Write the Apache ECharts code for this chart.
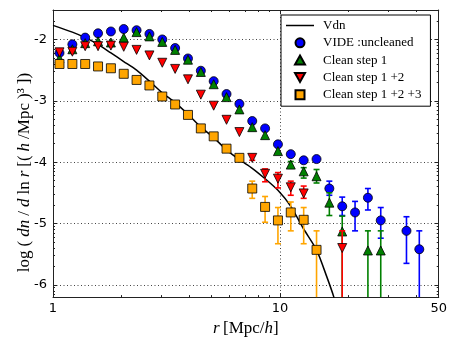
<!DOCTYPE html>
<html>
<head>
<meta charset="utf-8">
<script src="https://cdn.jsdelivr.net/npm/echarts@6/dist/echarts.min.js"></script>
<style>html,body{margin:0;padding:0;background:#fff}#c{width:450px;height:342px}</style>
</head>
<body>
<div id="c"></div>
<script>
// ---- data ----
const binR = [1.068,1.217,1.386,1.579,1.799,2.049,2.334,2.659,3.029,3.451,3.931,4.479,5.102,5.812,6.622,7.543,8.593,9.79,11.15,12.71,14.48,16.49,18.79,21.4,24.38,27.77,31.64,36.05,41.06];

const blueV  = [-2.22,-2.08,-1.97,-1.90,-1.87,-1.83,-1.85,-1.91,-2.00,-2.14,-2.31,-2.51,-2.68,-2.89,-3.05,-3.33,-3.45,-3.71,-3.87,-3.97,-3.95,-4.43,-4.72,-4.82,-4.58,-4.95,null,-5.12,-5.42];
const blueLo = [null,null,null,null,null,null,null,null,null,null,null,null,null,null,null,null,null,null,-3.90,-4.01,-3.99,-4.54,-4.87,-5.12,-4.78,-5.24,null,-5.65,-Infinity];
const blueHi = [null,null,null,null,null,null,null,null,null,null,null,null,null,null,null,null,null,null,-3.84,-3.93,-3.91,-4.31,-4.57,-4.64,-4.43,-4.74,null,-4.89,-5.12];

const greenV  = [-2.31,-2.16,-2.06,-2.03,-2.05,-1.97,-1.88,-1.95,-2.04,-2.17,-2.33,-2.53,-2.73,-2.94,-3.14,-3.43,-3.56,-3.82,-4.04,-4.15,-4.23,-4.66,-5.13,null,-5.44,-5.44,null,null,null];
const greenLo = [null,null,null,null,null,null,null,null,null,null,null,null,null,null,null,null,null,null,-4.10,-4.26,-4.34,-4.87,-Infinity,null,-Infinity,-Infinity,null,null,null];
const greenHi = [null,null,null,null,null,null,null,null,null,null,null,null,null,null,null,null,null,null,-3.99,-4.09,-4.12,-4.50,-4.88,null,-5.12,-5.12,null,null,null];

const redV  = [-2.21,-2.20,-2.11,-2.11,-2.10,-2.12,-2.17,-2.26,-2.38,-2.48,-2.65,-2.90,-3.08,-3.31,-3.51,-3.93,-4.19,-4.27,-4.41,-4.51,null,null,-5.40,null,null,null,null,null,null];
const redLo = [null,null,null,null,null,null,null,null,null,null,null,null,null,null,null,-3.97,-4.32,-4.42,-4.54,-4.59,null,null,-Infinity,null,null,null,null,null,null];
const redHi = [null,null,null,null,null,null,null,null,null,null,null,null,null,null,null,-3.89,-4.11,-4.17,-4.31,-4.39,null,null,-5.12,null,null,null,null,null,null];

const orangeV  = [-2.40,-2.40,-2.40,-2.44,-2.47,-2.56,-2.66,-2.75,-2.93,-3.06,-3.23,-3.45,-3.58,-3.78,-3.93,-4.43,-4.73,-4.95,-4.82,-4.94,-5.43,null,null,null,null,null,null,null,null];
const orangeLo = [null,null,null,null,null,null,null,null,null,null,null,null,null,null,null,-4.59,-4.98,-5.33,-5.12,-5.33,-Infinity,null,null,null,null,null,null,null,null];
const orangeHi = [null,null,null,null,null,null,null,null,null,null,null,null,null,null,null,-4.31,-4.56,-4.74,-4.65,-4.74,-5.12,null,null,null,null,null,null,null,null];

const vdnR = [1.0,1.217,1.386,1.579,1.799,2.049,2.334,2.659,3.029,3.451,3.931,4.479,5.102,5.812,6.622,7.543,8.593,9.79,11.15,12.71,14.48,16.0,17.26,18.5];
const vdnV = [-1.77,-1.88,-1.97,-2.08,-2.22,-2.36,-2.50,-2.68,-2.87,-3.03,-3.22,-3.43,-3.60,-3.80,-3.96,-4.10,-4.27,-4.46,-4.72,-5.09,-5.43,-5.85,-6.2,-6.6];

const seriesNames = ['Vdn','VIDE :uncleaned','Clean step 1','Clean step 1 +2','Clean step 1 +2 +3'];
const xMajorTicks = [1,10,50];
const xMinorTicks = [2,3,4,5,6,7,8,9,20,30,40];
const yMajorTicks = [-6,-5,-4,-3,-2];

// ---- layout / style ----
const X_MIN = 1, X_MAX = 50, Y_MIN = -6.2, Y_MAX = -1.52;
const yMinorTicks = [];
for (let n = -7; n <= -2; n++) for (let k = 2; k <= 9; k++) {
  const v = n + Math.log10(k);
  if (v > Y_MIN && v < Y_MAX) yMinorTicks.push(+v.toFixed(4));
}
const FRAME = '#222';
const SANS = 'DejaVu Sans';
const SERIF = 'Liberation Serif';

function pts(xs, ys) { return xs.map((x, i) => [x, ys[i]]).filter(p => p[1] !== null); }
function errData(xs, lo, hi) {
  const out = [];
  xs.forEach((x, i) => {
    if (lo[i] === null || hi[i] === null) return;
    const inf = lo[i] === -Infinity;
    out.push([x, inf ? Y_MIN - 1 : lo[i], hi[i], inf ? 1 : 0]);
  });
  return out;
}
function errRender(color) {
  return function (params, api) {
    const cs = params.coordSys;
    const x = api.value(0), lo = api.value(1), hi = api.value(2), inf = api.value(3);
    const pHi = api.coord([x, hi]);
    const pLo = api.coord([x, lo]);
    const bottom = cs.y + cs.height;
    const yb = Math.min(pLo[1], bottom);
    const st = { stroke: color, lineWidth: 1.6 };
    const ch = [
      { type: 'line', shape: { x1: pHi[0], y1: pHi[1], x2: pHi[0], y2: yb }, style: st },
      { type: 'line', shape: { x1: pHi[0] - 3, y1: pHi[1], x2: pHi[0] + 3, y2: pHi[1] }, style: st }
    ];
    if (!inf) ch.push({ type: 'line', shape: { x1: pLo[0] - 3, y1: pLo[1], x2: pLo[0] + 3, y2: pLo[1] }, style: st });
    return { type: 'group', children: ch };
  };
}

const tickLine = { color: FRAME, width: 1 };
function xAx(pos, ticks, len, opts) {
  return Object.assign({
    type: 'log', logBase: 10, min: X_MIN, max: X_MAX, position: pos,
    axisLine: { show: false },
    axisTick: { show: true, inside: true, length: len, customValues: ticks, lineStyle: tickLine },
    axisLabel: { show: false },
    splitLine: { show: false }, minorTick: { show: false }
  }, opts || {});
}
function yAx(pos, ticks, len, opts) {
  return Object.assign({
    type: 'value', min: Y_MIN, max: Y_MAX, position: pos,
    axisLine: { show: false },
    axisTick: { show: true, inside: true, length: len, customValues: ticks, lineStyle: tickLine },
    axisLabel: { show: false },
    splitLine: { show: false }
  }, opts || {});
}

const upTri = 'path://M5,0L10,9L0,9Z';
const downTri = 'path://M0,0L10,0L5,9Z';
const square = 'path://M0,0L10,0L10,10L0,10Z';
const lineIcon = 'path://M0,0L28,0L28,1.5L0,1.5Z';
const edge = { borderColor: '#000', borderWidth: 0.8 };
const xNameRich = {
  i: { fontFamily: SERIF, fontStyle: 'italic', fontSize: 17, color: '#000' },
  n: { fontFamily: SERIF, fontSize: 17, color: '#000' }
};
const yNameRich = {
  i: { fontFamily: SERIF, fontStyle: 'italic', fontSize: 17, color: '#000', padding: [0, 2] },
  n: { fontFamily: SERIF, fontSize: 17, color: '#000', padding: [0, 2] },
  e: { fontFamily: SERIF, fontSize: 17, color: '#000', padding: [0, 40, 0, 2] }
};

const option = {
  animation: false,
  backgroundColor: '#fff',
  grid: { left: 53, right: 11, top: 10, bottom: 42, containLabel: false },
  legend: {
    orient: 'vertical', left: 281, top: 15,
    padding: [4, 9, 5, 5],
    itemWidth: 28, itemHeight: 9, itemGap: 4.3,
    symbolKeepAspect: true,
    backgroundColor: '#fff', borderColor: '#000', borderWidth: 1, borderRadius: 0,
    textStyle: { fontFamily: SERIF, fontSize: 13, color: '#000', padding: [0, 0, 0, 4] },
    data: [
      { name: seriesNames[0], icon: lineIcon },
      { name: seriesNames[1], icon: 'circle' },
      { name: seriesNames[2], icon: upTri },
      { name: seriesNames[3], icon: downTri },
      { name: seriesNames[4], icon: square }
    ]
  },
  xAxis: [
    xAx('bottom', xMajorTicks, 4, {
      axisLine: { show: true, onZero: false, lineStyle: { color: FRAME, width: 1 } },
      axisLabel: { show: true, customValues: xMajorTicks, margin: 5, fontFamily: SANS, fontSize: 13, color: '#000',
        formatter: v => String(Math.round(v)) },
      splitLine: { show: true, lineStyle: { color: '#444', type: [1, 2.5], width: 1 } },
      name: '{i|r} {n|[Mpc/}{i|h}{n|]}', nameLocation: 'middle', nameGap: 22,
      nameTextStyle: { rich: xNameRich }
    }),
    xAx('bottom', xMinorTicks, 2),
    xAx('top', xMajorTicks, 4, { axisLine: { show: true, onZero: false, lineStyle: { color: FRAME, width: 1 } } }),
    xAx('top', xMinorTicks, 2)
  ],
  yAxis: [
    yAx('left', yMajorTicks, 4, {
      axisLine: { show: true, onZero: false, lineStyle: { color: FRAME, width: 1 } },
      axisLabel: { show: true, customValues: yMajorTicks, margin: 6, fontFamily: SANS, fontSize: 13, color: '#000',
        formatter: v => String(Math.round(v)) },
      splitLine: { show: true, lineStyle: { color: '#444', type: [1, 2.5], width: 1 } },
      name: '{n|log}{n|(}{i|dn}{n|/}{i|d}{n|ln}{i|r}{n|[(}{i|h}{n|/Mpc}{n|)³}{e|])}',
      nameLocation: 'middle', nameGap: 20, nameRotate: 90, nameMoveOverlap: false,
      nameTextStyle: { rich: yNameRich }
    }),
    yAx('left', yMinorTicks, 2),
    yAx('right', yMajorTicks, 4, { axisLine: { show: true, onZero: false, lineStyle: { color: FRAME, width: 1 } } }),
    yAx('right', yMinorTicks, 2)
  ],
  series: [
    { name: seriesNames[0], type: 'line', data: pts(vdnR, vdnV), showSymbol: false, symbol: 'none',
      smooth: 0.25, clip: true, lineStyle: { color: '#000', width: 1.5 }, itemStyle: { color: '#000' }, z: 2 },

    { type: 'custom', data: errData(binR, blueLo, blueHi), renderItem: errRender('#0000ff'), encode: { x: 0, y: [1, 2] }, z: 3, silent: true },
    { name: seriesNames[1], type: 'scatter', data: pts(binR, blueV), symbol: 'circle', symbolSize: 9,
      itemStyle: Object.assign({ color: '#0000ff', opacity: 1 }, edge), z: 4 },

    { type: 'custom', data: errData(binR, greenLo, greenHi), renderItem: errRender('#008000'), encode: { x: 0, y: [1, 2] }, z: 5, silent: true },
    { name: seriesNames[2], type: 'scatter', data: pts(binR, greenV), symbol: 'triangle', symbolSize: 9,
      itemStyle: Object.assign({ color: '#008000', opacity: 1 }, edge), z: 6 },

    { type: 'custom', data: errData(binR, redLo, redHi), renderItem: errRender('#ff0000'), encode: { x: 0, y: [1, 2] }, z: 7, silent: true },
    { name: seriesNames[3], type: 'scatter', data: pts(binR, redV), symbol: downTri, symbolSize: 9,
      itemStyle: Object.assign({ color: '#ff0000', opacity: 1 }, edge), z: 8 },

    { type: 'custom', data: errData(binR, orangeLo, orangeHi), renderItem: errRender('#ffa500'), encode: { x: 0, y: [1, 2] }, z: 9, silent: true },
    { name: seriesNames[4], type: 'scatter', data: pts(binR, orangeV), symbol: 'rect', symbolSize: 9,
      itemStyle: Object.assign({ color: '#ffa500', opacity: 1 }, edge), z: 10 }
  ]
};

const chart = echarts.init(document.getElementById('c'), null, { renderer: 'canvas' });
chart.setOption(option);
</script>
</body>
</html>
